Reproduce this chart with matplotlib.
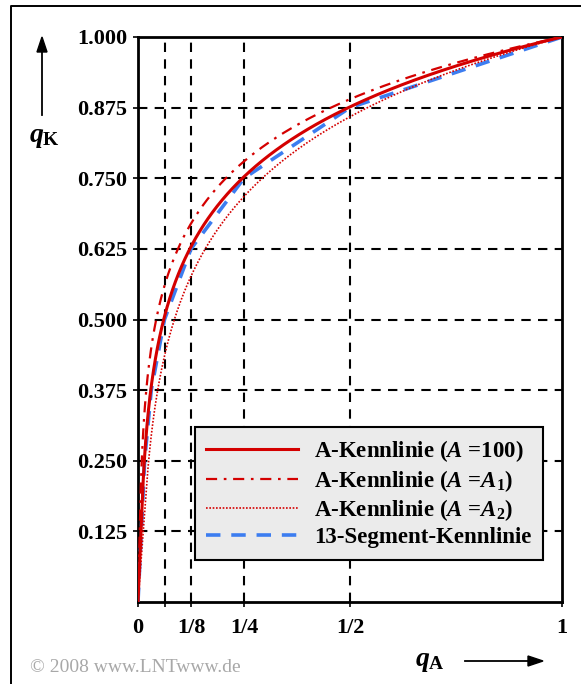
import numpy as np
import matplotlib.pyplot as plt
from matplotlib.lines import Line2D

plt.rcParams['font.family'] = 'Liberation Serif'
plt.rcParams['mathtext.fontset'] = 'custom'
plt.rcParams['mathtext.rm'] = 'Liberation Serif:bold'
plt.rcParams['mathtext.it'] = 'Liberation Serif:italic:bold'
plt.rcParams['mathtext.bf'] = 'Liberation Serif:bold'

# A-law parameters for the three red curves
A_values = [100, 200, 50]
A_labels = [r'A-Kennlinie ($A$ =100)',
            r'A-Kennlinie ($A$ =$A_1$)',
            r'A-Kennlinie ($A$ =$A_2$)']
A_styles = ['-', (0, (5, 3, 1.2, 3)), (0, (1, 1))]
A_widths = [2.2, 1.6, 1.2]

# 13-segment characteristic (positive half), segment end points
seg_qA = [0, 1/128, 1/64, 1/32, 1/16, 1/8, 1/4, 1/2, 1]
seg_qK = [0, 1/8, 2/8, 3/8, 4/8, 5/8, 6/8, 7/8, 1]

x_grid = [1/16, 1/8, 1/4, 1/2]
x_ticks = [0, 1/16, 1/8, 1/4, 1/2, 1]
x_ticklabels = ['0', '', '1/8', '1/4', '1/2', '1']
y_ticks = [0.125, 0.25, 0.375, 0.5, 0.625, 0.75, 0.875, 1.0]


def a_law(x, A):
    x = np.asarray(x)
    lin = A * x / (1 + np.log(A))
    log = (1 + np.log(np.maximum(A * x, 1e-12))) / (1 + np.log(A))
    return np.where(x < 1 / A, lin, log)


W, H = 581, 684
fig = plt.figure(figsize=(W / 100, H / 100), dpi=100)

# outer frame: left and top edges
fig.add_artist(Line2D([11 / W, 11 / W, 1.0], [0, (H - 6) / H, (H - 6) / H],
                      color='black', lw=1.4))

ax = fig.add_axes([138 / W, 82 / H, 424 / W, 565 / H])
ax.set_xlim(0, 1)
ax.set_ylim(0, 1)

for xv in x_grid:
    ax.axvline(xv, color='black', linestyle=(0, (4.5, 3.5)), linewidth=1.5, zorder=1)
for yv in y_ticks[:-1]:
    ax.axhline(yv, color='black', linestyle=(0, (4.5, 3.5)), linewidth=1.5, zorder=1)

qA = np.linspace(0, 1, 4001)
ax.plot(seg_qA, seg_qK, color='#3c7df0', linestyle=(0, (4, 3)), linewidth=2.6, zorder=3,
        label='13-Segment-Kennlinie')
for A, lab, ls, lw in zip(A_values, A_labels, A_styles, A_widths):
    ax.plot(qA, a_law(qA, A), color='#d40000', linestyle=ls, linewidth=lw, zorder=4, label=lab)

for s in ax.spines.values():
    s.set_linewidth(2)
ax.set_xticks(x_ticks)
ax.set_xticklabels(x_ticklabels)
ax.set_yticks(y_ticks)
ax.set_yticklabels(['%.3f' % v for v in y_ticks])
ax.tick_params(direction='out', length=3.5, width=1.2, labelsize=16, pad=4)
ax.tick_params(axis='x', pad=8)
for t in ax.get_xticklabels() + ax.get_yticklabels():
    t.set_fontweight('bold')

handles, labels = ax.get_legend_handles_labels()
order = [1, 2, 3, 0]
leg = ax.legend([handles[i] for i in order], [labels[i] for i in order],
                loc='lower right', bbox_to_anchor=(0.955, 0.075), frameon=True, fancybox=False,
                edgecolor='black', facecolor='#ebebeb', framealpha=1,
                prop={'weight': 'bold', 'size': 16.5}, handlelength=4.0,
                labelspacing=0.16, borderpad=0.5, handletextpad=0.7, borderaxespad=0)
leg.get_frame().set_linewidth(1.5)
leg.set_zorder(6)

# axis labels with arrows
fig.add_artist(Line2D([42 / W, 42 / W], [(H - 115) / H, (H - 50) / H], color='black', lw=1.3))
fig.patches.append(plt.Polygon([[37 / W, (H - 52) / H], [47 / W, (H - 52) / H], [42 / W, (H - 37) / H]],
                               closed=True, color='black', transform=fig.transFigure))
fig.text(44 / W, (H - 138) / H, r'$q_\mathbf{K}$', fontsize=20, ha='center', va='center')

fig.add_artist(Line2D([465 / W, 530 / W], [(H - 661) / H, (H - 661) / H], color='black', lw=1.3))
fig.patches.append(plt.Polygon([[528 / W, (H - 656) / H], [528 / W, (H - 666) / H], [543 / W, (H - 661) / H]],
                               closed=True, color='black', transform=fig.transFigure))
fig.text(430 / W, (H - 662) / H, r'$q_\mathbf{A}$', fontsize=20, ha='center', va='center')

fig.text(30 / W, (H - 667) / H, '\u00a9 2008 www.LNTwww.de', fontsize=14, color='#a8a8a8',
         ha='left', va='center')

fig.savefig('out.png', dpi=100)
